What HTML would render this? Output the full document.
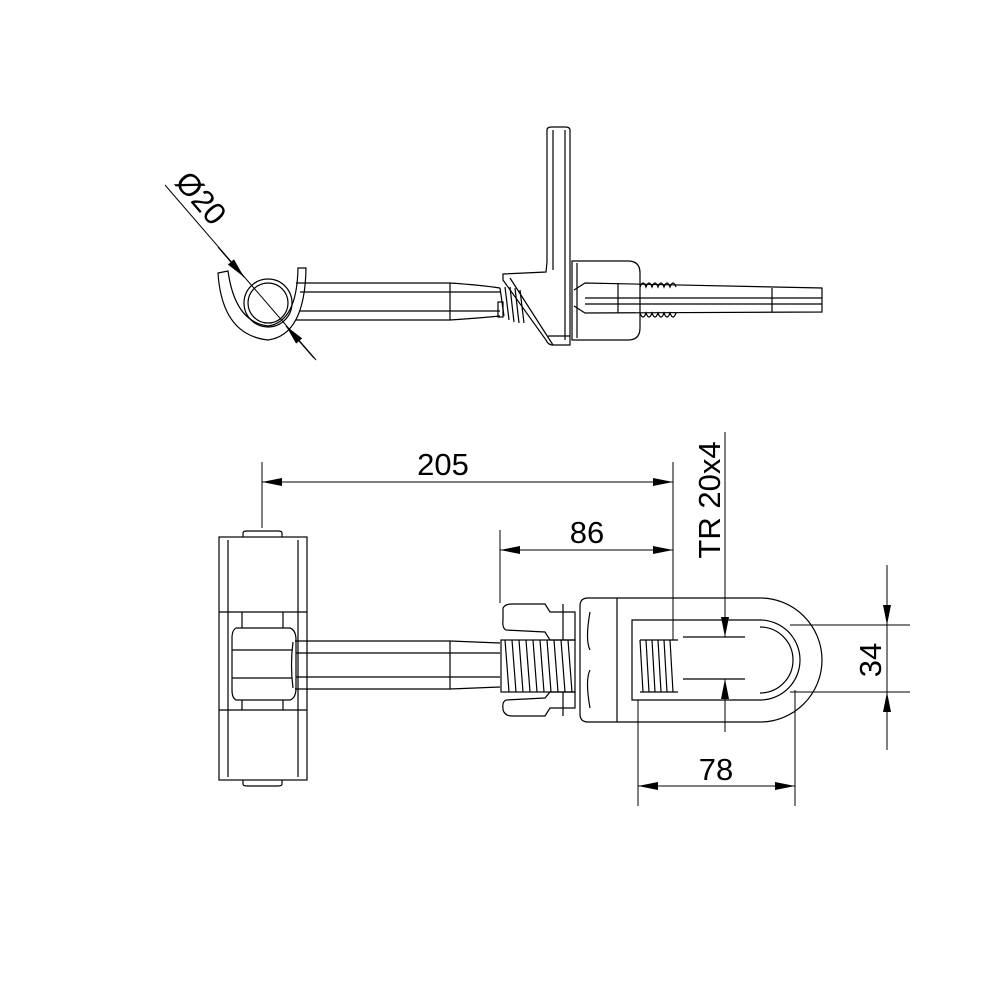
<!DOCTYPE html>
<html><head><style>html,body{margin:0;padding:0;background:#fff}svg{display:block}text{font-family:"Liberation Sans",sans-serif;fill:#000}</style></head><body>
<svg width="1000" height="1000" viewBox="0 0 1000 1000" xmlns="http://www.w3.org/2000/svg">
<defs>
<marker id="a" viewBox="0 0 20 8" refX="20" refY="4" markerWidth="20" markerHeight="8" orient="auto-start-reverse" markerUnits="userSpaceOnUse"><path d="M0,0 L20,4 L0,8 Z" fill="#000"/></marker>
</defs>
<g fill="none" stroke="#000" stroke-width="1.2">
<!-- TOP VIEW -->
<!-- hook -->
<path d="M218,273 Q222,335 268,340 Q305,335 306,268 L298,268 Q297,322 268,326 Q235,322 228,271 Z"/>
<circle cx="268" cy="303" r="24"/>
<circle cx="268" cy="303" r="20"/>
<!-- rod -->
<path d="M296,283 L450,283 Q480,285 500,288 M296,320 L450,320 Q480,318 500,316"/>
<line x1="300" y1="292" x2="500" y2="292"/><line x1="300" y1="311" x2="500" y2="311"/>
<line x1="450" y1="283" x2="450" y2="320"/>
<!-- threads left -->
<path d="M500,288 l4,28 M505,287 l4,33 M510,287 l4,35 M515,288 l4,35 M520,290 l4,33"/>
<rect x="498" y="302" width="5" height="15"/>
<!-- bracket -->
<path d="M503,274 L546,272 L547,262 L547,130 Q547,127 552,127 L565,127 Q570,127 570,130 L570,345 L553,345 Q548,345 546,340 L503,280 Z"/>
<line x1="553" y1="130" x2="553" y2="270"/><line x1="565" y1="130" x2="565" y2="340"/>
<path d="M510,278 L553,345"/>
<line x1="548" y1="336" x2="570" y2="336"/>
<!-- nut box -->
<path d="M572,261 L628,261 Q640,261 640,273 L640,328 Q640,340 628,340 L572,340 Z"/>
<line x1="577" y1="263" x2="577" y2="338"/>
<!-- inner rod -->
<path d="M574,290 L585,283 L822,288 L822,312 L585,313 L574,306"/>
<line x1="585" y1="298" x2="822" y2="298"/><line x1="585" y1="304" x2="822" y2="304"/>
<line x1="618" y1="283" x2="618" y2="313"/><line x1="772" y1="288" x2="772" y2="312"/>
<!-- thread bumps -->
<path d="M640,287 q3,-8 6,0 q3,-8 6,0 q3,-8 6,0 q3,-8 6,0 q3,-8 6,0 q3,-8 6,0"/>
<path d="M640,313 q3,8 6,0 q3,8 6,0 q3,8 6,0 q3,8 6,0 q3,8 6,0 q3,8 6,0"/>
<!-- Ø20 dim -->
<line x1="165" y1="185" x2="316" y2="360" stroke-width="1"/>
<line x1="218" y1="247" x2="244" y2="277" marker-end="url(#a)"/>
<line x1="314" y1="358" x2="286" y2="326" marker-end="url(#a)"/>

<!-- BOTTOM VIEW -->
<!-- plate -->
<rect x="219" y="537" width="88" height="243"/>
<line x1="228" y1="540" x2="228" y2="777"/><line x1="298" y1="540" x2="298" y2="777"/>
<path d="M243,537 L243,533 Q243,531 247,531 L278,531 Q282,531 282,533 L282,537"/>
<path d="M243,780 L243,784 Q243,786 247,786 L278,786 Q282,786 282,784 L282,780"/>
<line x1="219" y1="612" x2="307" y2="612"/><line x1="219" y1="710" x2="307" y2="710"/>
<!-- knuckle -->
<path d="M236,628 L290,628 Q296,630 296,640 L296,688 Q296,698 290,700 L236,700 Q232,698 232,690 L232,638 Q232,630 236,628 Z"/>
<line x1="232" y1="650" x2="292" y2="650"/><line x1="232" y1="678" x2="292" y2="678"/>
<line x1="242" y1="612" x2="242" y2="628"/><line x1="283" y1="612" x2="283" y2="628"/>
<line x1="242" y1="700" x2="242" y2="710"/><line x1="283" y1="700" x2="283" y2="710"/>
<!-- rod -->
<path d="M293,642 Q290,665 293,688"/>
<path d="M295,641 L450,641 L500,643 M295,689 L450,689 L500,687"/>
<line x1="296" y1="653" x2="500" y2="653"/><line x1="296" y1="677" x2="500" y2="677"/>
<line x1="450" y1="641" x2="450" y2="689"/>
<!-- thread -->
<rect x="501" y="640" width="74" height="52"/>
<path d="M505,640 l4,52 M512,640 l4,52 M519,640 l4,52 M526,640 l4,52 M533,640 l4,52 M540,640 l4,52 M547,640 l4,52 M554,640 l4,52 M561,640 l4,52 M568,640 l4,52"/>
<!-- nut wings -->
<path d="M503,608 Q505,604 512,604 L545,604 L550,612 L575,612 L575,640 L550,640 L545,632 L506,630 Q502,628 503,620 Z"/>
<path d="M503,710 Q505,716 512,716 L545,716 L550,708 L575,708 L575,692 L550,692 L545,698 L506,700 Q502,702 503,708 Z"/>
<line x1="563" y1="604" x2="563" y2="640"/><line x1="563" y1="692" x2="563" y2="716"/>
<!-- eye -->
<path d="M588,598 L760,598 A62,62 0 0 1 760,722 L588,722 Q580,722 580,714 L580,606 Q580,598 588,598 Z"/>
<path d="M632,620 L760,620 A40,40 0 0 1 760,700 L632,700 Z"/>
<path d="M760,627 A33,33 0 0 1 760,693"/>
<line x1="617" y1="598" x2="617" y2="722"/>
<path d="M590,612 Q585,640 590,650 M590,708 Q585,680 590,670"/>
<!-- inner thread -->
<path d="M640,640 l3,52 M646,640 l3,52 M652,640 l3,52 M658,640 l3,52 M664,640 l3,52 M670,640 l3,52"/>
<line x1="640" y1="640" x2="678" y2="640"/><line x1="640" y1="692" x2="678" y2="692"/>
<!-- TR short lines -->
<line x1="683" y1="637" x2="745" y2="637"/><line x1="683" y1="679" x2="745" y2="679"/>
</g>
<g fill="none" stroke="#000" stroke-width="1">
<!-- 205 -->
<line x1="262" y1="462" x2="262" y2="528"/>
<line x1="673" y1="462" x2="673" y2="640"/>
<line x1="262" y1="482" x2="673" y2="482" marker-start="url(#a)" marker-end="url(#a)"/>
<!-- 86 -->
<line x1="500" y1="530" x2="500" y2="603"/>
<line x1="500" y1="550" x2="673" y2="550" marker-start="url(#a)" marker-end="url(#a)"/>
<!-- TR -->
<line x1="725" y1="432" x2="725" y2="637" marker-end="url(#a)"/>
<line x1="725" y1="732" x2="725" y2="679" marker-end="url(#a)"/>
<!-- 34 -->
<line x1="790" y1="625" x2="910" y2="625"/><line x1="790" y1="692" x2="910" y2="692"/>
<line x1="887" y1="565" x2="887" y2="625" marker-end="url(#a)"/>
<line x1="887" y1="750" x2="887" y2="692" marker-end="url(#a)"/>
<line x1="887" y1="625" x2="887" y2="692"/>
<!-- 78 -->
<line x1="638" y1="700" x2="638" y2="806"/><line x1="795" y1="690" x2="795" y2="806"/>
<line x1="638" y1="786" x2="795" y2="786" marker-start="url(#a)" marker-end="url(#a)"/>
</g>
<g font-size="31">
<text x="443" y="475" text-anchor="middle">205</text>
<text x="587" y="543" text-anchor="middle">86</text>
<text x="716" y="780" text-anchor="middle">78</text>
<text transform="translate(720,500) rotate(-90)" text-anchor="middle">TR 20x4</text>
<text transform="translate(881,660) rotate(-90)" text-anchor="middle">34</text>
<text transform="translate(193,205) rotate(49)" text-anchor="middle">Ø20</text>
</g>
</svg>
</body></html>
